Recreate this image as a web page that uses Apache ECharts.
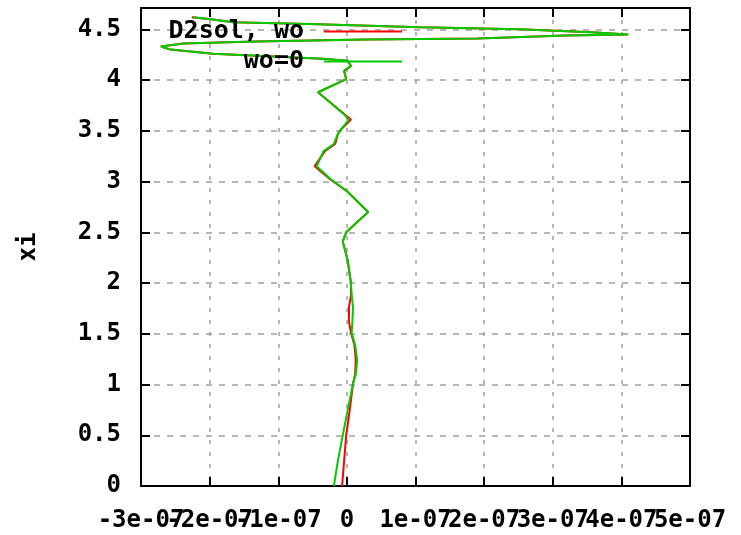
<!DOCTYPE html>
<html>
<head>
<meta charset="utf-8">
<title>D2sol</title>
<script src="https://cdn.jsdelivr.net/npm/echarts@6/dist/echarts.min.js"></script>
<style>
  html, body { margin: 0; padding: 0; background: #fff; }
  #chart { width: 741px; height: 535px; }
</style>
</head>
<body>
<div id="chart"></div>
<script>
// xi positions where both solutions are sampled
const xi = [
  0.00, 0.25, 0.50, 0.74, 1.01, 1.10, 1.24, 1.39, 1.51, 1.62,
  1.76, 1.88, 2.00, 2.23, 2.41, 2.50, 2.70, 2.90, 3.02, 3.15,
  3.30, 3.37, 3.47, 3.51, 3.61, 3.66, 3.88, 4.01, 4.09, 4.14,
  4.19, 4.21, 4.26, 4.30, 4.33, 4.36, 4.38, 4.40, 4.41, 4.44,
  4.45, 4.47, 4.50, 4.52, 4.55, 4.57, 4.60, 4.62
];

// D2sol with wo
const d2solWo = [
  -0.07e-7, -0.04e-7, -0.01e-7, 0.04e-7, 0.09e-7, 0.12e-7, 0.13e-7, 0.11e-7, 0.06e-7, 0.03e-7,
  0.03e-7, 0.06e-7, 0.06e-7, 0.01e-7, -0.06e-7, -0.01e-7, 0.31e-7, 0.01e-7, -0.24e-7, -0.47e-7,
  -0.32e-7, -0.17e-7, -0.13e-7, -0.09e-7, 0.06e-7, -0.03e-7, -0.42e-7, -0.01e-7, -0.04e-7, 0.06e-7,
  0.01e-7, -0.36e-7, -1.95e-7, -2.57e-7, -2.71e-7, -2.38e-7, -1.35e-7, 0.28e-7, 1.90e-7, 3.17e-7,
  4.10e-7, 3.56e-7, 2.51e-7, 1.06e-7, -0.42e-7, -1.66e-7, -1.98e-7, -2.26e-7
];

// D2sol with wo=0
const d2solWo0 = [
  -0.19e-7, -0.13e-7, -0.06e-7, 0.01e-7, 0.09e-7, 0.13e-7, 0.15e-7, 0.12e-7, 0.07e-7, 0.08e-7,
  0.09e-7, 0.07e-7, 0.06e-7, 0.01e-7, -0.06e-7, -0.01e-7, 0.31e-7, 0.01e-7, -0.23e-7, -0.44e-7,
  -0.34e-7, -0.19e-7, -0.13e-7, -0.09e-7, 0.03e-7, -0.04e-7, -0.42e-7, -0.01e-7, -0.04e-7, 0.06e-7,
  0.01e-7, -0.34e-7, -1.95e-7, -2.57e-7, -2.71e-7, -2.38e-7, -1.33e-7, 0.28e-7, 1.91e-7, 3.19e-7,
  4.10e-7, 3.56e-7, 2.51e-7, 1.08e-7, -0.42e-7, -1.66e-7, -1.98e-7, -2.24e-7
];

const seriesNames = ['D2sol, wo', 'wo=0'];

// axis ticks
const xMin = -3e-7, xMax = 5e-7, xStep = 1e-7;
const xTickLabels = ['-3e-07', '-2e-07', '-1e-07', '0', '1e-07', '2e-07', '3e-07', '4e-07', '5e-07'];
const yMin = 0, yMax = 4.71, yStep = 0.5;
const yTickLabels = ['0', '0.5', '1', '1.5', '2', '2.5', '3', '3.5', '4', '4.5'];

const FONT = '"DejaVu Sans Mono", "Liberation Mono", monospace';
const textBase = { fontFamily: FONT, fontWeight: 'bold', fontSize: 24, color: '#000' };

function pairs(xs) {
  return xs.map((x, i) => [x, xi[i]]);
}

const frameLine = { show: true, onZero: false, lineStyle: { color: '#000', width: 2 } };
const innerTick = { show: true, inside: true, length: 9, lineStyle: { color: '#000', width: 2 } };

function keyLegend(name, top) {
  return {
    data: [name],
    orient: 'vertical',
    align: 'right',
    right: 339,
    top: top,
    padding: 0,
    icon: 'rect',
    itemWidth: 78,
    itemHeight: 2,
    selectedMode: false,
    textStyle: Object.assign({}, textBase, { fontSize: 25, padding: [0, 15, 0, 0] })
  };
}

// The bottom tick labels are wider than the tick spacing and overlap each other,
// so they are split over two stacked bottom axes (alternate ticks each) so that
// every one of them is drawn.
function xLabelAxis(parity, withFrame) {
  return {
    type: 'value',
    position: 'bottom',
    offset: 0,
    min: xMin, max: xMax, interval: xStep,
    axisLine: withFrame ? frameLine : { show: false, onZero: false },
    axisTick: withFrame ? innerTick : { show: false },
    axisLabel: Object.assign({}, textBase, {
      margin: 23,
      interval: 0,
      hideOverlap: false,
      formatter: v => {
        const i = Math.round((v - xMin) / xStep);
        return i % 2 === parity ? xTickLabels[i] : '';
      }
    }),
    splitLine: withFrame
      ? { show: true, lineStyle: { color: '#a0a0a0', width: 1.5, type: [4, 8] } }
      : { show: false }
  };
}

const chart = echarts.init(document.getElementById('chart'), null, { renderer: 'canvas' });

chart.setOption({
  animation: false,
  backgroundColor: '#fff',
  grid: { left: 141, right: 51, top: 8, bottom: 49, containLabel: false },
  legend: [keyLegend(seriesNames[0], 19), keyLegend(seriesNames[1], 49)],
  xAxis: [
    xLabelAxis(0, true),
    xLabelAxis(1, false),
    {
      type: 'value',
      position: 'top',
      min: xMin, max: xMax, interval: xStep,
      axisLine: frameLine,
      axisTick: innerTick,
      axisLabel: { show: false },
      splitLine: { show: false }
    }
  ],
  yAxis: [
    {
      type: 'value',
      position: 'left',
      min: yMin, max: yMax, interval: yStep,
      name: 'xi',
      nameLocation: 'middle',
      nameGap: 100,
      nameTextStyle: textBase,
      axisLine: frameLine,
      axisTick: innerTick,
      axisLabel: Object.assign({}, textBase, {
        margin: 20,
        interval: 0,
        showMinLabel: true,
        showMaxLabel: false,
        formatter: v => yTickLabels[Math.round((v - yMin) / yStep)]
      }),
      splitLine: { show: true, lineStyle: { color: '#a0a0a0', width: 1.5, type: [6, 7] } }
    },
    {
      type: 'value',
      position: 'right',
      min: yMin, max: yMax, interval: yStep,
      axisLine: frameLine,
      axisTick: innerTick,
      axisLabel: { show: false },
      splitLine: { show: false }
    }
  ],
  series: [
    {
      name: seriesNames[0],
      type: 'line',
      xAxisIndex: 0,
      yAxisIndex: 0,
      data: pairs(d2solWo),
      showSymbol: false,
      symbol: 'none',
      color: '#ff0000',
      lineStyle: { color: '#ff0000', width: 2 },
      z: 2
    },
    {
      name: seriesNames[1],
      type: 'line',
      xAxisIndex: 0,
      yAxisIndex: 0,
      data: pairs(d2solWo0),
      showSymbol: false,
      symbol: 'none',
      color: '#00cc00',
      lineStyle: { color: '#00cc00', width: 2 },
      z: 3
    }
  ]
});
</script>
</body>
</html>
